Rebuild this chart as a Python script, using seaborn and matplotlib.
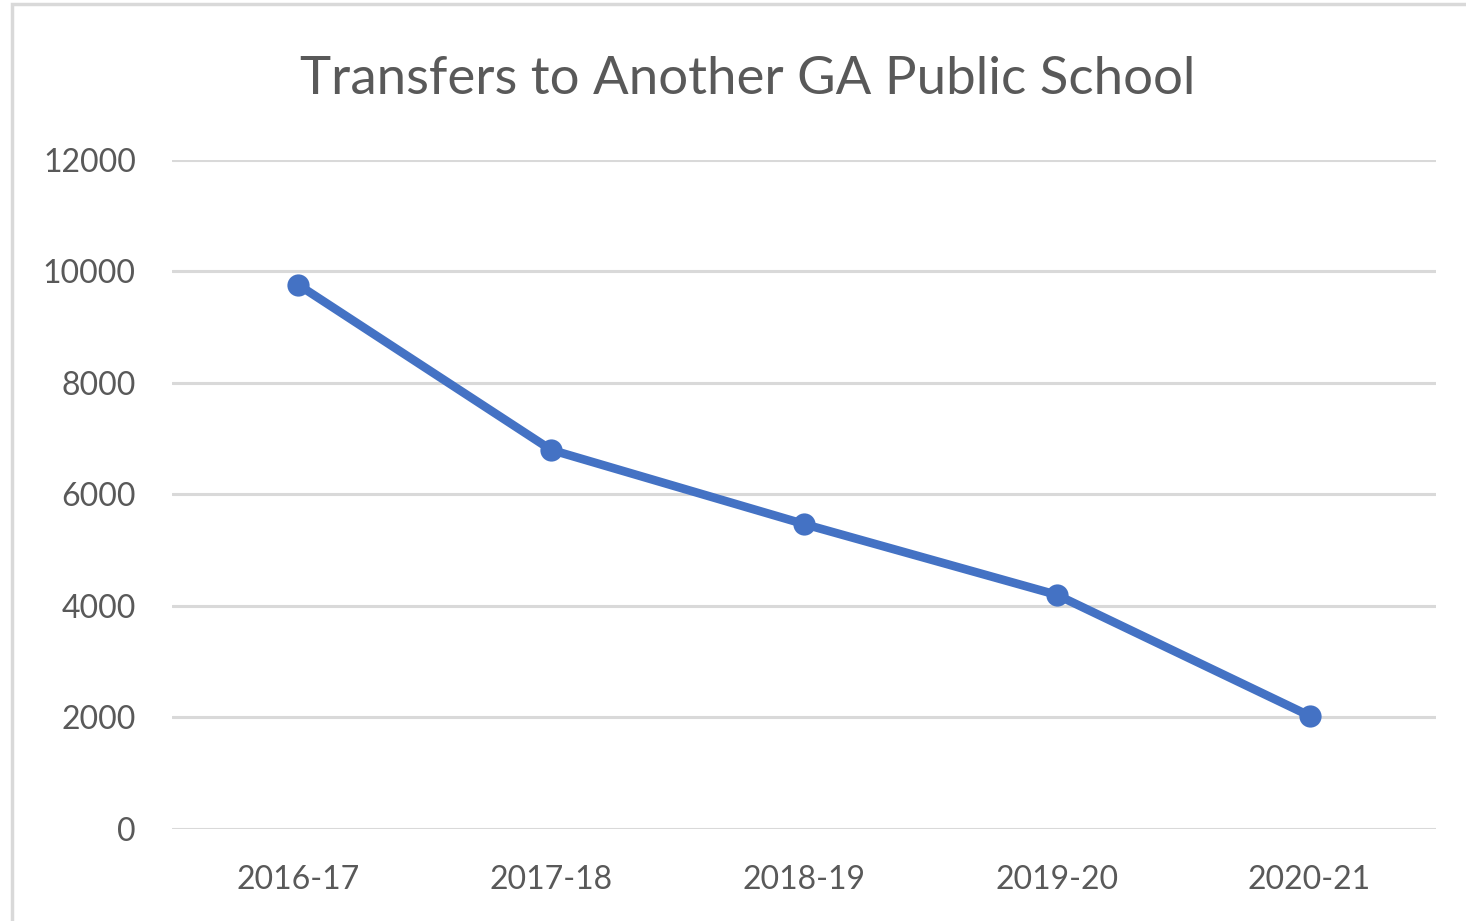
import matplotlib
matplotlib.use("Agg")
import matplotlib.pyplot as plt
import seaborn as sns
import pandas as pd
from matplotlib.patches import Rectangle

# data
years = ["2016-17", "2017-18", "2018-19", "2019-20", "2020-21"]
transfers = [9760, 6800, 5470, 4200, 2030]
y_ticks = [0, 2000, 4000, 6000, 8000, 10000, 12000]

df = pd.DataFrame({"year": years, "transfers": transfers})

sns.set_theme(style="white")
plt.rcParams["font.family"] = ["Lato", "DejaVu Sans"]

fig = plt.figure(figsize=(14.66, 9.21), dpi=100)
ax = fig.add_axes([0.1173, 0.0999, 0.8622, 0.7264])

# light gray frame around the chart area, like the spreadsheet export
fig.patches.append(Rectangle((12 / 1466, -0.05), 1.2, 1 - 4 / 921 + 0.05,
                             transform=fig.transFigure, fill=False,
                             edgecolor="#D9D9D9", linewidth=2.5))

for t in y_ticks:
    ax.axhline(t, color="#D9D9D9", linewidth=2.2, zorder=0)

sns.lineplot(data=df, x="year", y="transfers", ax=ax, color="#4472C4",
             linewidth=6.2, marker="o", markersize=16, markeredgewidth=0,
             sort=False)

ax.set_xlim(-0.5, 4.5)
ax.set_ylim(0, 12000)
ax.set_yticks(y_ticks)
ax.set_yticklabels([str(t) for t in y_ticks])
ax.set_xlabel("")
ax.set_ylabel("")
for s in ax.spines.values():
    s.set_visible(False)
ax.tick_params(axis="both", length=0, labelsize=23, labelcolor="#595959")
ax.tick_params(axis="y", pad=26)
ax.tick_params(axis="x", pad=26)

fig.text(0.51, 0.914, "Transfers to Another GA Public School",
         ha="center", va="center", fontsize=38, color="#595959")

fig.savefig("out.png", dpi=100, facecolor="white")
